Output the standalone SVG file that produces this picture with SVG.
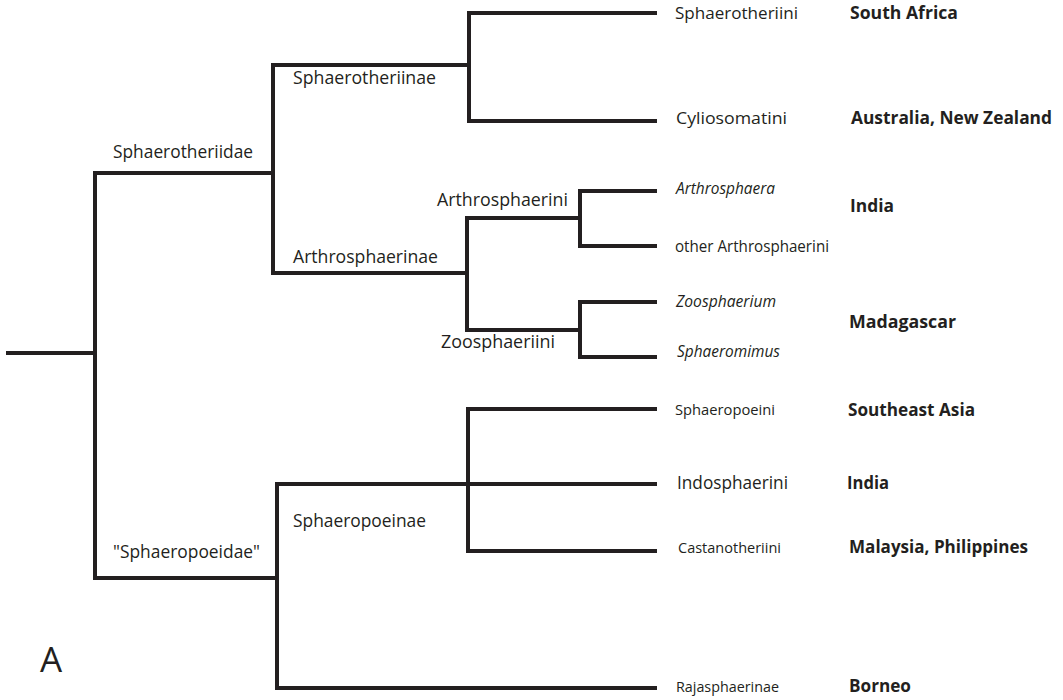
<svg xmlns="http://www.w3.org/2000/svg" width="1063" height="700" viewBox="0 0 1063 700">
<style>
.br{fill:none;stroke:#231f20;stroke-width:4;stroke-linecap:butt;stroke-linejoin:miter}
text{font-family:"Open Sans","Noto Sans",sans-serif;fill:#231f20;font-size:17.5px}
.t{font-size:16.5px}
.it{font-style:italic;font-size:16px}
.b{font-weight:bold;font-size:17.5px}
.s{font-size:14.6px}
</style>
<rect width="1063" height="700" fill="#fff"/>
<g id="connectors">
<path class="br" d="M6,353 H95"/>
<path class="br" d="M273,173 H95 V578 H277"/>
<path class="br" d="M469,65 H273 V273 H467"/>
<path class="br" d="M657,13 H469 V121 H657"/>
<path class="br" d="M580,218 H467 V330 H580"/>
<path class="br" d="M657,191 H580 V246 H657"/>
<path class="br" d="M657,302 H580 V357 H657"/>
<path class="br" d="M657,484 H277 V688 H657"/>
<path class="br" d="M657,409 H468 V551 H657"/>
</g>
<g id="n-sphaerotheriidae"><text x="113" y="158" textLength="140" lengthAdjust="spacingAndGlyphs">Sphaerotheriidae</text></g>
<g id="n-sphaeropoeidae"><text x="113" y="558" textLength="147" lengthAdjust="spacingAndGlyphs">"Sphaeropoeidae"</text></g>
<g id="n-sphaerotheriinae"><text x="293" y="84" textLength="143" lengthAdjust="spacingAndGlyphs">Sphaerotheriinae</text></g>
<g id="n-arthrosphaerinae"><text x="293" y="263" textLength="145" lengthAdjust="spacingAndGlyphs">Arthrosphaerinae</text></g>
<g id="n-arthrosphaerini"><text x="437" y="206" textLength="131" lengthAdjust="spacingAndGlyphs">Arthrosphaerini</text></g>
<g id="n-zoosphaeriini"><text x="441" y="348" textLength="114" lengthAdjust="spacingAndGlyphs">Zoosphaeriini</text></g>
<g id="n-sphaeropoeinae"><text x="293" y="527" textLength="133" lengthAdjust="spacingAndGlyphs">Sphaeropoeinae</text></g>
<g id="n-sphaerotheriini"><text class="t" x="675" y="19" textLength="123" lengthAdjust="spacingAndGlyphs">Sphaerotheriini</text><text class="b" x="850" y="19" textLength="108" lengthAdjust="spacingAndGlyphs">South Africa</text></g>
<g id="n-cyliosomatini"><text class="t" x="676" y="124" textLength="111" lengthAdjust="spacingAndGlyphs">Cyliosomatini</text><text class="b" x="851" y="124" textLength="201" lengthAdjust="spacingAndGlyphs">Australia, New Zealand</text></g>
<g id="n-arthrosphaera"><text class="it" x="676" y="194" textLength="99" lengthAdjust="spacingAndGlyphs">Arthrosphaera</text></g>
<g id="n-other-arthrosphaerini"><text class="t" x="675" y="252" textLength="154" lengthAdjust="spacingAndGlyphs">other Arthrosphaerini</text></g>
<g id="n-india1"><text class="b" x="850" y="212" textLength="44" lengthAdjust="spacingAndGlyphs">India</text></g>
<g id="n-zoosphaerium"><text class="it" x="676" y="307" textLength="100" lengthAdjust="spacingAndGlyphs">Zoosphaerium</text></g>
<g id="n-sphaeromimus"><text class="it" x="677" y="357" textLength="103" lengthAdjust="spacingAndGlyphs">Sphaeromimus</text></g>
<g id="n-madagascar"><text class="b" x="849" y="328" textLength="107" lengthAdjust="spacingAndGlyphs">Madagascar</text></g>
<g id="n-sphaeropoeini"><text class="s" x="675" y="415" textLength="100" lengthAdjust="spacingAndGlyphs">Sphaeropoeini</text><text class="b" x="848" y="416" textLength="127" lengthAdjust="spacingAndGlyphs">Southeast Asia</text></g>
<g id="n-indosphaerini"><text x="677" y="489" textLength="111" lengthAdjust="spacingAndGlyphs">Indosphaerini</text><text class="b" x="847" y="489" textLength="42" lengthAdjust="spacingAndGlyphs">India</text></g>
<g id="n-castanotheriini"><text class="s" x="678" y="553" textLength="103" lengthAdjust="spacingAndGlyphs">Castanotheriini</text><text class="b" x="849" y="553" textLength="179" lengthAdjust="spacingAndGlyphs">Malaysia, Philippines</text></g>
<g id="n-rajasphaerinae"><text class="s" x="676" y="692" textLength="103" lengthAdjust="spacingAndGlyphs">Rajasphaerinae</text><text class="b" x="849" y="692" textLength="62" lengthAdjust="spacingAndGlyphs">Borneo</text></g>
<g id="label-a"><text x="40" y="672" style="font-size:35px">A</text></g>
</svg>
